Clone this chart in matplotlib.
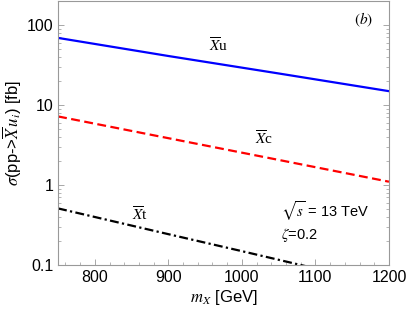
import matplotlib
matplotlib.use("Agg")
import matplotlib.pyplot as plt
from matplotlib.ticker import MultipleLocator, LogLocator, FixedFormatter, FixedLocator

plt.rcParams['font.family'] = ['Liberation Sans', 'DejaVu Sans']
plt.rcParams['mathtext.fontset'] = 'stix'

# values (log scale, roughly straight lines)
mass = [750, 900, 1050, 1200]
sigma_u = [69, 41, 24.8, 14.9]
sigma_c = [7.2, 3.85, 2.06, 1.1]
mass_t = [750, 900, 1000, 1100, 1200]
sigma_t = [0.51, 0.243, 0.149, 0.0906, 0.055]

y_ticks = [0.1, 1, 10, 100]
y_tick_labels = ['0.1', '1', '10', '100']
x_ticks = [800, 900, 1000, 1100, 1200]

fig = plt.figure(figsize=(4.09, 3.14), dpi=100)
ax = fig.add_axes([0.142, 0.156, 0.809, 0.841])

ax.plot(mass, sigma_u, color='#0000ff', linewidth=1.6, linestyle='-')
ax.plot(mass, sigma_c, color='#ff0000', linewidth=1.6, linestyle=(0, (4, 2)))
ax.plot(mass_t, sigma_t, color='black', linewidth=1.6, linestyle=(0, (4, 1.5, 1, 1.5)))

ax.set_yscale('log')
ax.set_xlim(750, 1200)
ax.set_ylim(0.1, 200)

ax.xaxis.set_major_locator(FixedLocator(x_ticks))
ax.xaxis.set_minor_locator(MultipleLocator(20))
ax.yaxis.set_major_locator(FixedLocator(y_ticks))
ax.yaxis.set_major_formatter(FixedFormatter(y_tick_labels))
ax.yaxis.set_minor_locator(LogLocator(base=10, subs=range(2, 10)))
ax.yaxis.set_minor_formatter(FixedFormatter([]))

ax.tick_params(which='both', direction='in', top=True, right=True,
               color='#999999', labelsize=11.5)
ax.tick_params(which='major', length=4, width=0.6)
ax.tick_params(which='minor', length=2, width=0.5)
ax.tick_params(axis='x', which='both', top=False)
for s in ax.spines.values():
    s.set_color('#999999')
    s.set_linewidth(0.8)

ax.set_xlabel(r'$m_X$ [GeV]', fontsize=12, labelpad=2)
ax.set_ylabel(r'$\sigma$(pp->$\overline{X}\,u_i$) [fb]', fontsize=12, labelpad=2)

serif = ['Liberation Serif', 'DejaVu Serif']
ax.text(955, 42, r'$\overline{X}$u', fontsize=11, family=serif, ha='left', va='bottom')
ax.text(1018, 2.9, r'$\overline{X}$c', fontsize=11, family=serif, ha='left', va='bottom')
ax.text(850, 0.33, r'$\overline{X}$t', fontsize=11, family=serif, ha='left', va='bottom')
ax.text(1179, 116, r'$(b)$', fontsize=11, family=serif, ha='right', va='center')
ax.text(1053, 0.47, r'$\sqrt{s}$ = 13 TeV', fontsize=10.5, ha='left', va='center')
ax.text(1053, 0.235, r'$\zeta$=0.2', fontsize=10.5, ha='left', va='center')

fig.savefig('out.png', dpi=100)
